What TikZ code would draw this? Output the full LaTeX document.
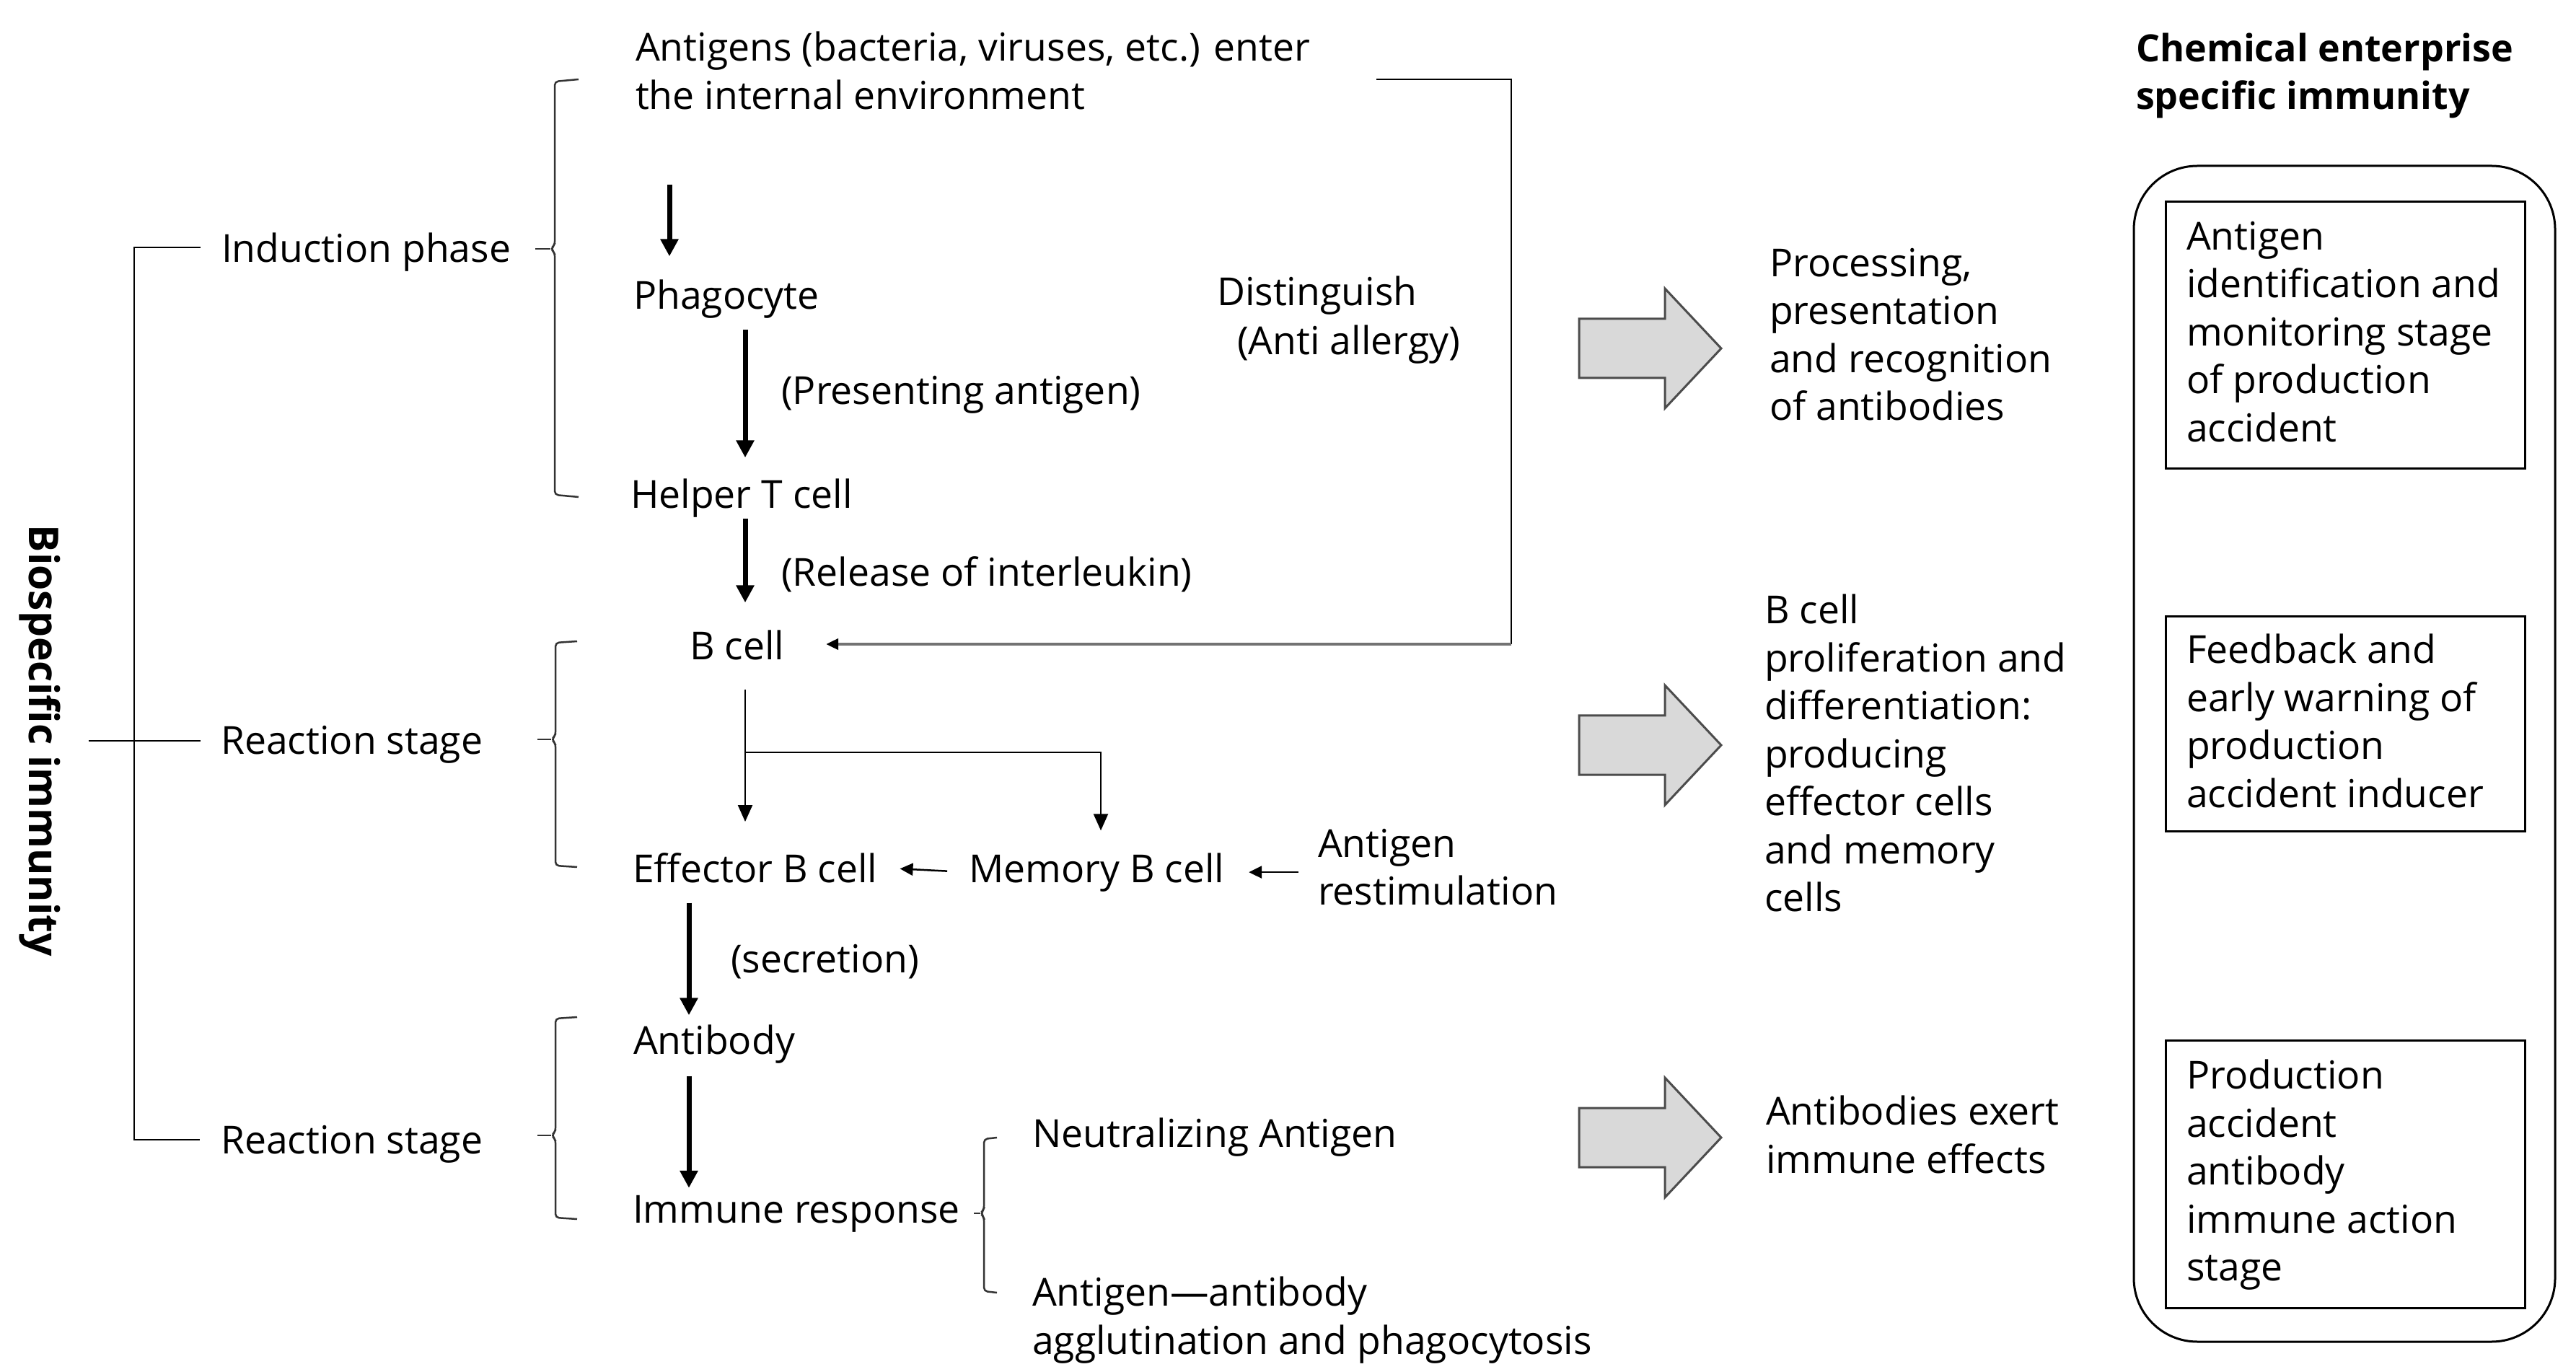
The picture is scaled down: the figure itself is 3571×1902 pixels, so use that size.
\documentclass[tikz,border=0pt]{standalone}
\usepackage{fontspec}
\setmainfont{Open Sans}
\usetikzlibrary{arrows.meta}
\newcommand\fsz{\fontsize{10.7pt}{13.3pt}\selectfont}
\newcommand\fszb{\fontsize{10.4pt}{13.2pt}\selectfont\bfseries}
\newcommand\fszbio{\fontsize{11.4pt}{13.2pt}\selectfont\bfseries}
\begin{document}
\begin{tikzpicture}[x=0.2pt,y=-0.2pt,
 txt/.style={font=\fsz, inner sep=0pt, anchor=base west},
 mtxt/.style={font=\fsz, inner sep=0pt, anchor=north west, align=left},
 ttl/.style={font=\fszb, inner sep=0pt, anchor=north west, align=left},
 ln/.style={line width=0.5pt, black},
 brk/.style={line width=0.5pt, black!80, rounded corners=1pt},
 thickarr/.style={line width=1.4pt, -{Triangle[length=4.8pt,width=4.8pt]}},
 thinarr/.style={line width=0.45pt, -{Triangle[length=4.6pt,width=4pt]}},
 smallarr/.style={line width=0.5pt, -{Triangle[length=3.6pt,width=3.4pt]}},
 grayarr/.style={line width=0.8pt, black!55, -{Triangle[length=3.4pt,width=3pt,fill=black,color=black]}},
 blockarr/.style={line width=0.6pt, draw=black!70, fill=black!15},
 box/.style={line width=0.6pt, draw=black},
]
\useasboundingbox (0,0) rectangle (3571,1902);

% ---------- left labels ----------
\node[font=\fszbio, inner sep=0pt, rotate=-90, anchor=center] (bio) at (55,1027) {Biospecific immunity};
\node[txt] (ind) at (306,364) {Induction phase};
\node[txt] (react1) at (305,1045) {Reaction stage};
\node[txt] (react2) at (305,1599) {Reaction stage};

% ---------- flow texts ----------
\node[mtxt] (ant) at (880,43) {Antigens (bacteria, viruses, etc.) enter\\the internal environment};
\node[txt] (phago) at (877,429) {Phagocyte};
\node[txt] (helper) at (873,705) {Helper T cell};
\node[txt] (bcell) at (955,915) {B cell};
\node[txt] (effector) at (876,1223) {Effector B cell};
\node[txt] (memory) at (1342,1223) {Memory B cell};
\node[mtxt] (restim) at (1826,1148) {Antigen\\restimulation};
\node[txt] (antibody) at (877,1461) {Antibody};
\node[txt] (immune) at (876,1695) {Immune response};
\node[txt] (neutral) at (1430,1590) {Neutralizing Antigen};
\node[mtxt] (agglut) at (1430,1769) {Antigen—antibody\\agglutination and phagocytosis};
\node[txt] (present) at (1082,561) {(Presenting antigen)};
\node[txt] (release) at (1082,813) {(Release of interleukin)};
\node[txt] (secretion) at (1012,1348) {(secretion)};
\node[txt] (distinguish) at (1686,424) {Distinguish};
\node[txt] (antiallergy) at (1714,492) {(Anti allergy)};

% ---------- middle texts ----------
\node[mtxt] (proc) at (2452,343) {Processing,\\presentation\\and recognition\\of antibodies};
\node[mtxt] (bprol) at (2445,823) {B cell\\proliferation and\\differentiation:\\producing\\effector cells\\and memory\\cells};
\node[mtxt] (abex) at (2447,1518) {Antibodies exert\\immune effects};

% ---------- right panel ----------
\node[ttl] (title) at (2960,45) {Chemical enterprise\\specific immunity};
\draw[box, rounded corners=17.6pt] (2958,230) rectangle (3542,1860);
\draw[box] (3002,280) rectangle (3500,650);
\draw[box] (3002,855) rectangle (3500,1152);
\draw[box] (3002,1442) rectangle (3500,1813);
\node[mtxt] (box1) at (3030,306) {Antigen\\identification and\\monitoring stage\\of production\\accident};
\node[mtxt] (box2) at (3030,878) {Feedback and\\early warning of\\production\\accident inducer};
\node[mtxt] (box3) at (3030,1468) {Production\\accident\\antibody\\immune action\\stage};

% ---------- block arrows ----------
\foreach \cy in {483,1033,1577}{
  \draw[blockarr] (2189,\cy-41) -- (2308,\cy-41) -- (2308,\cy-83) -- (2386,\cy)
     -- (2308,\cy+83) -- (2308,\cy+41) -- (2189,\cy+41) -- cycle;
}

% ---------- columns ----------
\coordinate (xA) at (928,0);
\coordinate (xB) at (1033,0);
\coordinate (xC) at (955,0);
\coordinate (xM) at (1526,0);
\coordinate (yBr) at (0,1043);
\coordinate (bigX) at (186,0);
\coordinate (dA) at (1908,110);
\coordinate (dB) at (2095,893);

% ---------- main arrows ----------
\draw[thickarr, shorten <=20.6pt, shorten >=6.4pt] (ant.south -| xA) -- (phago.north -| xA);
\draw[thickarr, shorten <=2.8pt, shorten >=5.8pt] (phago.south -| xB) -- (helper.north -| xB);
\draw[thickarr, shorten <=0pt, shorten >=7.6pt] (helper.south -| xB) -- (bcell.north -| xB);
\draw[thinarr, shorten <=7.8pt, shorten >=8.4pt] (bcell.south -| xB) -- (effector.north -| xB);
\draw[thinarr, shorten >=6pt] (xB |- yBr) -- (xM |- yBr) -- (memory.north -| xM);
\draw[smallarr, shorten <=5.8pt, shorten >=6pt] (memory.west) -- (effector.east);
\draw[smallarr, shorten <=5.2pt, shorten >=6.6pt] (restim.west |- memory.west) -- (memory.east);
\draw[thickarr, shorten <=5.4pt, shorten >=2.4pt] (effector.south -| xC) -- (antibody.north -| xC);
\draw[thickarr, shorten <=3.4pt, shorten >=1.8pt] (antibody.south -| xC) -- (immune.north -| xC);

% distinguish feedback
\draw[ln] (dA) -| (dB);
\draw[grayarr, shorten >=11.4pt] (dB) -- (dB -| bcell.east);

% ---------- brackets ----------
\draw[ln] ([xshift=-5.6pt]ind.west |- 0,343) -- (bigX |- 0,343) -- (bigX |- 0,1580) -- ([xshift=-5.6pt]react2.west |- 0,1580);
\draw[ln, shorten <=7.6pt, shorten >=5.4pt] (bio.north) -- (bio.north -| react1.west);

\draw[brk] (802,110) -- (769,113) -- (769,340) -- (763,345) -- (769,350) -- (769,686) -- (802,689);
\draw[brk] (742,345) -- (763,345);
\draw[brk] (800,889) -- (770,891) -- (770,1020) -- (764,1025) -- (770,1030) -- (770,1200) -- (800,1202);
\draw[brk] (745,1025) -- (764,1025);
\draw[brk] (800,1410) -- (770,1412) -- (770,1569) -- (764,1574) -- (770,1579) -- (770,1688) -- (800,1690);
\draw[brk] (745,1574) -- (764,1574);
\draw[brk] (1382,1577) -- (1364,1579) -- (1364,1677) -- (1359,1682) -- (1364,1687) -- (1364,1790) -- (1382,1792);
\draw[brk] (1350,1682) -- (1359,1682);
\end{tikzpicture}
\end{document}
